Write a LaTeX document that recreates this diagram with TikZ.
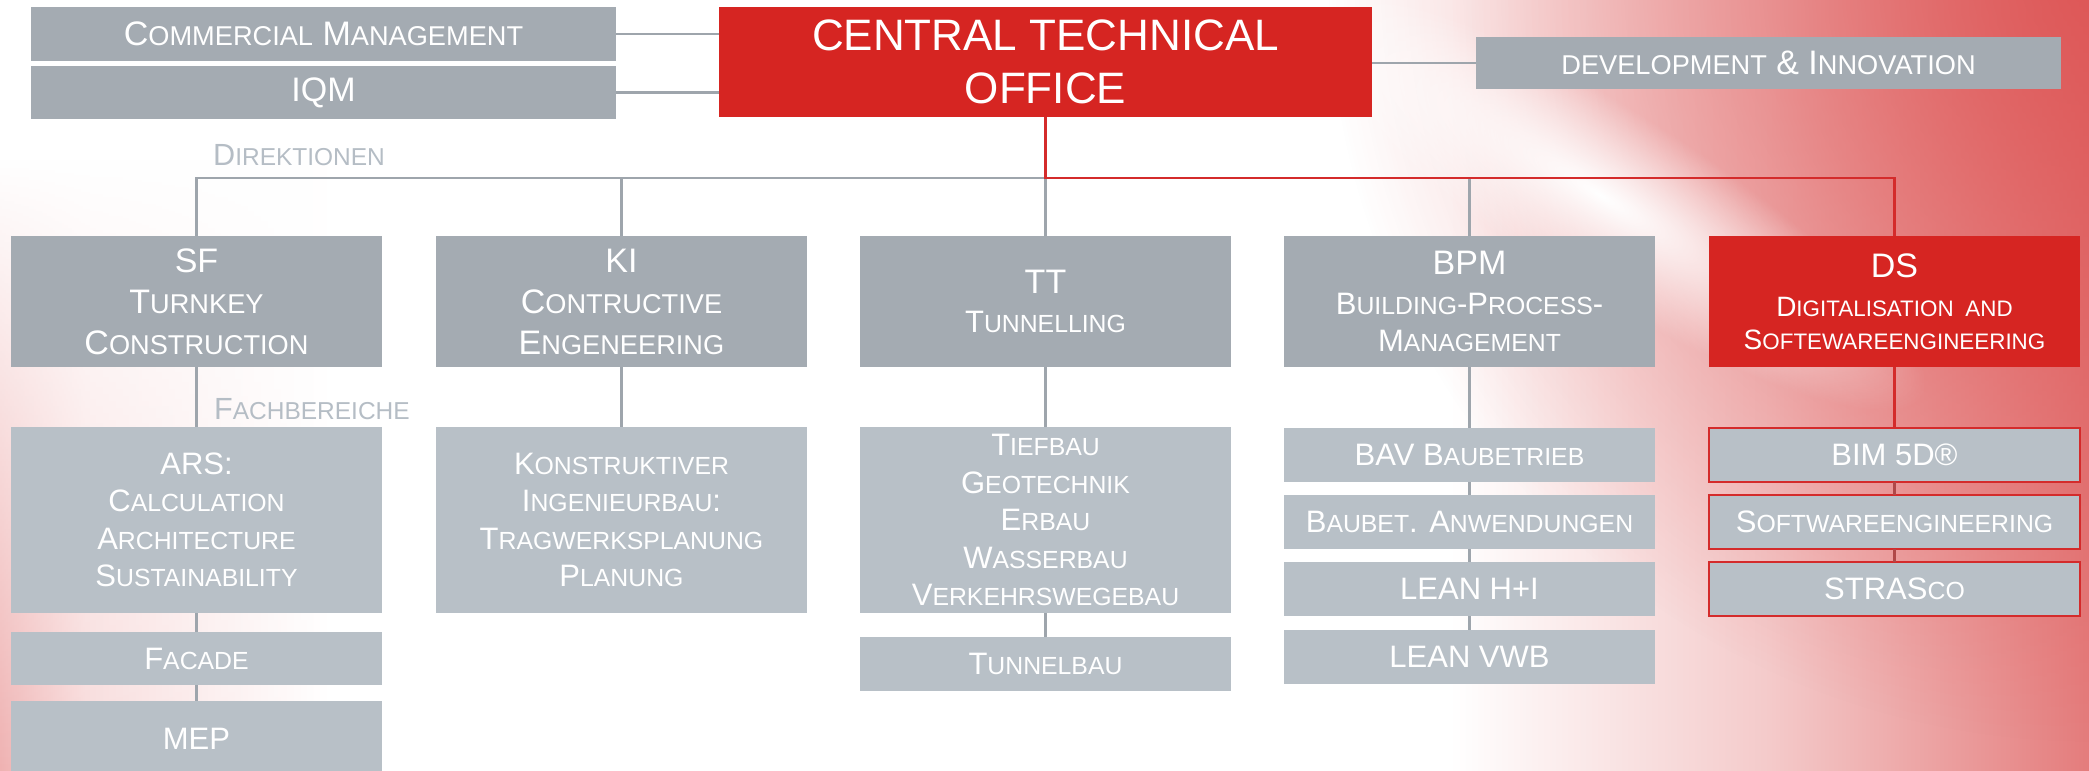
\documentclass[tikz,border=0pt]{standalone}
\usepackage{fontspec}
\setmainfont{Liberation Sans}
\usepackage{graphicx}
\usetikzlibrary{fadings}

% palette
\definecolor{boxdark}{HTML}{A4ABB2}
\definecolor{boxlight}{HTML}{B8C0C7}
\definecolor{cored}{HTML}{D62522}
\definecolor{linegrey}{HTML}{9EA5AC}
\definecolor{linered}{HTML}{D42B2B}
\definecolor{dsline}{HTML}{B04848}
\definecolor{labelgrey}{HTML}{B5BDC5}
\definecolor{glowA}{HTML}{F4CACA}
\definecolor{glowB}{HTML}{E47C7C}
\definecolor{glowC}{HTML}{DC4E4E}
\definecolor{glowL}{HTML}{EFB2B2}
\definecolor{glowLm}{HTML}{F8DADA}

% small capitals faked from scaled capitals
\newcommand\smcp[1]{\scalebox{0.8}{#1}}

% background glows
\pgfdeclarehorizontalshading{rightglow}{100bp}{color(0bp)=(white); color(25bp)=(white); color(50bp)=(glowA); color(75bp)=(glowB); color(100bp)=(glowB)}
\pgfdeclarehorizontalshading{leftglow}{100bp}{color(0bp)=(glowL); color(25bp)=(glowL); color(38bp)=(glowLm); color(75bp)=(white); color(100bp)=(white)}
\tikzfading[name=glowfade, inner color=transparent!20, outer color=transparent!100]
\tikzfading[name=softspot, inner color=transparent!0, outer color=transparent!100]
\tikzfading[name=fadeup, top color=transparent!100, bottom color=transparent!0]

\tikzset{
  box/.style={anchor=north west, inner sep=0pt, outer sep=0pt, align=center, text=white},
  upper/.style={box, fill=boxdark},
  lower/.style={box, fill=boxlight},
  head/.style={box, fill=cored},
  division/.style={upper, minimum width=371pt, minimum height=131pt, font=\fontsize{34}{41}\selectfont},
  tall/.style={lower, minimum width=371pt, minimum height=186pt, font=\fontsize{31}{37.5}\selectfont},
  slim/.style={lower, minimum width=371pt, minimum height=54pt, font=\fontsize{31}{37.5}\selectfont},
  dsitem/.style={slim, draw=linered, line width=2.5pt},
  link/.style={draw=linegrey, line width=2.8pt},
  redlink/.style={draw=linered, line width=2.5pt},
  dslink/.style={draw=dsline, line width=2.5pt},
  tag/.style={anchor=base west, inner sep=0pt, text=labelgrey, font=\fontsize{30.6}{36}\selectfont},
}

\begin{document}
\begin{tikzpicture}[x=1pt, y=-1pt]
\useasboundingbox (0,0) rectangle (2089,771);

% ---- background ----
\fill[white] (0,0) rectangle (2089,771);
\shade[shading=rightglow] (1450,0) rectangle (2089,771);
\fill[glowC, path fading=glowfade] (2089,-20) circle (760);
\begin{scope}[transform canvas={shift={(1600,195)}, rotate=-32}]
  \fill[white, path fading=softspot] (-380,-90) rectangle (380,90);
\end{scope}
\shade[shading=leftglow, path fading=fadeup] (0,160) rectangle (330,771);

% ---- top level ----
\node[upper, minimum width=585pt, minimum height=54pt, font=\fontsize{34}{40}\selectfont] (com) at (31,7) {C\smcp{OMMERCIAL} M\smcp{ANAGEMENT}};
\node[upper, minimum width=585pt, minimum height=53pt, font=\fontsize{34}{40}\selectfont] (iqm) at (31,66) {IQM};
\node[head, minimum width=653pt, minimum height=110pt, font=\fontsize{44}{53}\selectfont] (cto) at (719,7) {CENTRAL TECHNICAL\\OFFICE};
\node[upper, minimum width=585pt, minimum height=52pt, font=\fontsize{34}{40}\selectfont] (dev) at (1476,37) {\smcp{DEVELOPMENT} \& I\smcp{NNOVATION}};

\draw[link] (com.east) -- (com.east -| cto.west);
\draw[link] (iqm.east) -- (iqm.east -| cto.west);
\draw[link] (cto.east |- dev.west) -- (dev.west);

\node[tag] (direk) at (213,165) {D\smcp{IREKTIONEN}};

% ---- divisions ----
\node[division] (sf) at (11,236) {SF\\T\smcp{URNKEY}\\C\smcp{ONSTRUCTION}};
\node[division] (ki) at (436,236) {KI\\C\smcp{ONTRUCTIVE}\\E\smcp{NGENEERING}};
\node[division, font=\fontsize{31}{39}\selectfont] (tt) at (860,236) {{\fontsize{34}{39}\selectfont TT}\\T\smcp{UNNELLING}};
\node[division, font=\fontsize{31}{37}\selectfont] (bpm) at (1284,236) {{\fontsize{34}{37}\selectfont BPM}\\[3pt]B\smcp{UILDING}-P\smcp{ROCESS}-\\M\smcp{ANAGEMENT}};
\node[division, fill=cored, font=\fontsize{28}{33}\selectfont] (ds) at (1709,236) {{\fontsize{34}{33}\selectfont DS}\\[6pt]D\smcp{IGITALISATION}\hspace{4pt} \smcp{AND}\\S\smcp{OFTEWAREENGINEERING}};

\coordinate (bus) at (0,178);
\draw[link] (tt.north) -- (tt.north |- bus) -- (sf.north |- bus) -- (sf.north);
\draw[link] (ki.north) -- (ki.north |- bus);
\draw[link] (bpm.north) -- (bpm.north |- bus);
\draw[redlink] (cto.south) -- (cto.south |- bus) -- (ds.north |- bus) -- (ds.north);

% ---- departments ----
\node[tag] (fach) at (214,419) {F\smcp{ACHBEREICHE}};

\node[tall] (ars) at (11,427) {ARS:\\C\smcp{ALCULATION}\\A\smcp{RCHITECTURE}\\S\smcp{USTAINABILITY}};
\node[slim, minimum height=53pt] (facade) at (11,632) {F\smcp{ACADE}};
\node[slim, minimum height=76pt] (mep) at (11,701) {MEP};

\node[tall] (kon) at (436,427) {K\smcp{ONSTRUKTIVER}\\I\smcp{NGENIEURBAU}:\\T\smcp{RAGWERKSPLANUNG}\\P\smcp{LANUNG}};

\node[tall] (tief) at (860,427) {T\smcp{IEFBAU}\\G\smcp{EOTECHNIK}\\E\smcp{RBAU}\\W\smcp{ASSERBAU}\\V\smcp{ERKEHRSWEGEBAU}};
\node[slim] (tunnel) at (860,637) {T\smcp{UNNELBAU}};

\node[slim] (bav) at (1284,428) {BAV B\smcp{AUBETRIEB}};
\node[slim] (baubet) at (1284,495) {B\smcp{AUBET}. A\smcp{NWENDUNGEN}};
\node[slim] (leanhi) at (1284,562) {LEAN H+I};
\node[slim] (leanvwb) at (1284,630) {LEAN VWB};

\node[dsitem] (bim) at (1709,428) {BIM 5D®};
\node[dsitem] (softw) at (1709,495) {S\smcp{OFTWAREENGINEERING}};
\node[dsitem] (stras) at (1709,562) {STRAS\smcp{CO}};

\draw[link] (sf.south) -- (ars.north);
\draw[link] (ars.south) -- (facade.north);
\draw[link] (facade.south) -- (mep.north);
\draw[link] (ki.south) -- (kon.north);
\draw[link] (tt.south) -- (tief.north);
\draw[link] (tief.south) -- (tunnel.north);
\draw[link] (bpm.south) -- (bav.north);
\draw[link] (bav.south) -- (baubet.north);
\draw[link] (baubet.south) -- (leanhi.north);
\draw[link] (leanhi.south) -- (leanvwb.north);
\draw[redlink] (ds.south) -- (bim.north);
\draw[dslink] (bim.south) -- (softw.north);
\draw[dslink] (softw.south) -- (stras.north);
\end{tikzpicture}
\end{document}
